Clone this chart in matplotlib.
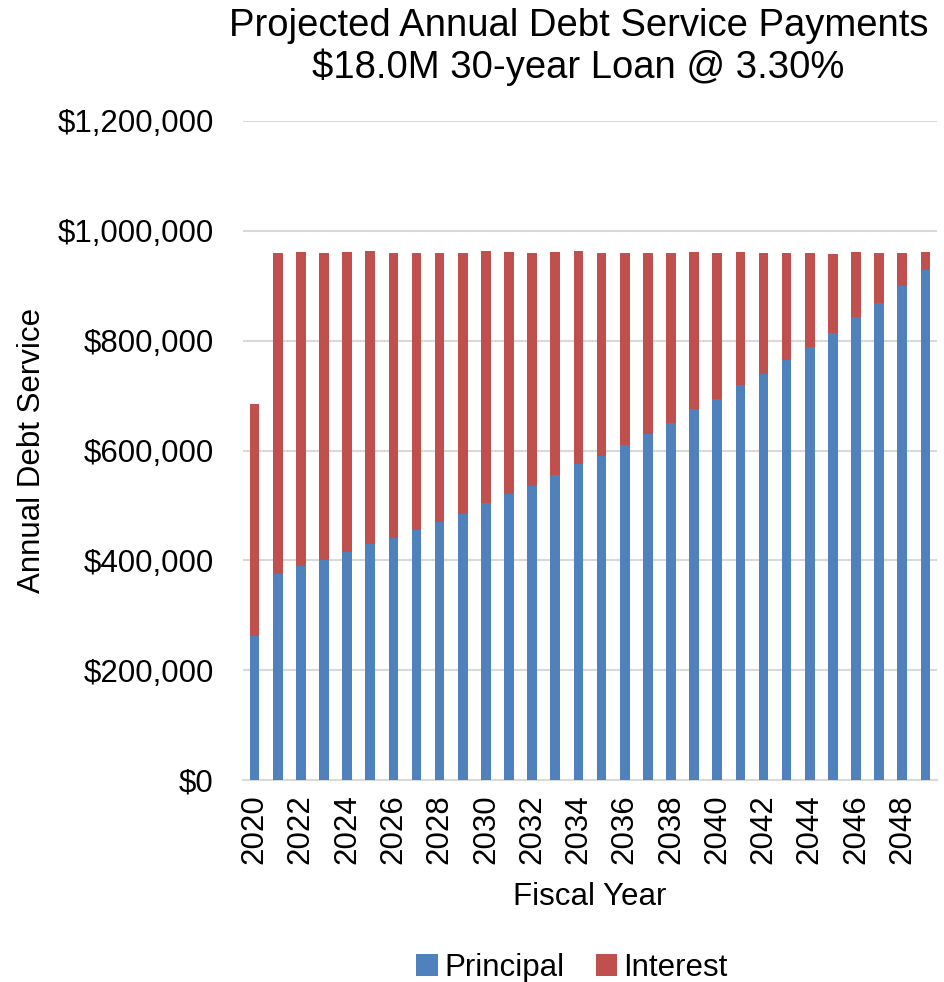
import matplotlib
matplotlib.use("Agg")
import matplotlib.pyplot as plt
from matplotlib.ticker import FuncFormatter, MultipleLocator

years = list(range(2020, 2050))
principal = [262, 376, 390, 401, 416, 430, 441, 456, 470, 485,
             505, 521, 535, 555, 575, 590, 610, 630, 650, 675,
             694, 719, 739, 765, 789, 814, 844, 868, 899, 929]
interest = [423, 583, 572, 558, 545, 533, 518, 503, 489, 474,
            458, 440, 424, 406, 388, 369, 350, 329, 309, 287,
            266, 243, 220, 194, 170, 144, 118, 91, 61, 32]
principal = [v * 1000 for v in principal]
interest = [v * 1000 for v in interest]
tick_years = years[::2]

plt.rcParams['font.family'] = ['Liberation Sans', 'DejaVu Sans']

fig = plt.figure(figsize=(9.45, 9.82), dpi=100)
ax = fig.add_axes([243/945, 1 - 780/982, (937 - 243)/945, (780 - 121)/982])

blue = '#4F81BD'
red = '#C0504D'
x = list(range(len(years)))
ax.bar(x, principal, width=0.42, color=blue, label='Principal', zorder=3)
ax.bar(x, interest, width=0.42, bottom=principal, color=red, label='Interest', zorder=3)

ax.set_xlim(-0.5, len(years) - 0.5)
ax.set_ylim(0, 1200000)
ax.yaxis.set_major_locator(MultipleLocator(200000))
ax.yaxis.set_major_formatter(FuncFormatter(lambda v, p: '${:,.0f}'.format(v)))
ax.grid(axis='y', color='#d9d9d9', linewidth=1.5, zorder=0)
ax.set_axisbelow(True)

ax.set_xticks([years.index(y) for y in tick_years])
ax.set_xticklabels([str(y) for y in tick_years], rotation=90)

for s in ['top', 'right', 'left']:
    ax.spines[s].set_visible(False)
ax.spines['bottom'].set_color('#d9d9d9')
ax.spines['bottom'].set_linewidth(1.5)
ax.tick_params(axis='y', length=0, pad=21, labelsize=22.5)
ax.tick_params(axis='x', length=0, pad=10, labelsize=22.5)

ax.set_xlabel('Fiscal Year', fontsize=22.5, labelpad=13)
ax.set_ylabel('Annual Debt Service', fontsize=22.5)
ax.yaxis.set_label_coords(-(243 - 47) / 694, 0.5)

fig.text(0.612, 1 - 47/982, 'Projected Annual Debt Service Payments\n$18.0M 30-year Loan @ 3.30%',
         ha='center', va='center', fontsize=27.5, linespacing=1.16)

fig.legend(loc='center', bbox_to_anchor=(572/945, 1 - 968/982), ncol=2, frameon=False,
           fontsize=22.5, handlelength=0.7, handleheight=0.7, handletextpad=0.2,
           columnspacing=1.0)

fig.savefig('out.png', dpi=100)
